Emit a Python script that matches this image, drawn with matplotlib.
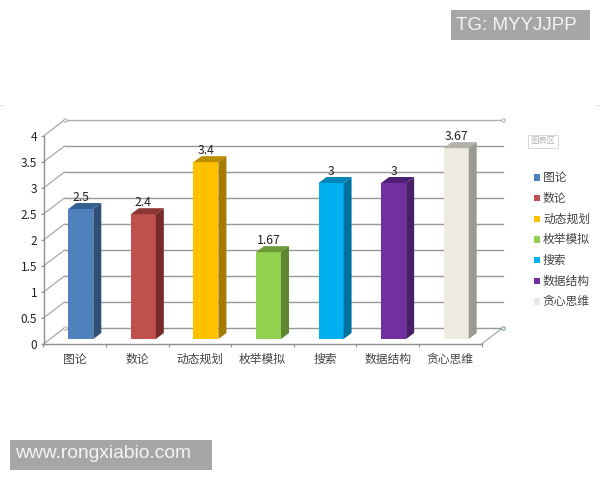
import matplotlib
matplotlib.use('Agg')
import matplotlib.pyplot as plt
from matplotlib.patches import Rectangle

plt.rcParams['font.family'] = ['Noto Sans CJK SC', 'DejaVu Sans']

categories = ['图论', '数论', '动态规划', '枚举模拟', '搜索', '数据结构', '贪心思维']
values = [2.5, 2.4, 3.4, 1.67, 3, 3, 3.67]
labels = ['2.5', '2.4', '3.4', '1.67', '3', '3', '3.67']
yticks = [0, 0.5, 1, 1.5, 2, 2.5, 3, 3.5, 4]
ytick_labels = ['0', '0.5', '1', '1.5', '2', '2.5', '3', '3.5', '4']

front_colors = ['#4f81bd', '#c0504d', '#ffc000', '#92d050', '#00b0f0', '#7030a0', '#eeece1']
top_colors = ['#34608f', '#8c3533', '#bd8e00', '#6b9a38', '#0085b5', '#4f2176', '#b3b2a9']
side_colors = ['#2f4f78', '#772c2a', '#a67c00', '#5f8731', '#0072a0', '#491f68', '#9b9a92']
legend_colors = front_colors[:6] + ['#e8e8e6']

W, H = 600, 480
fig = plt.figure(figsize=(6, 4.8), dpi=100)
ax = fig.add_axes([43.5 / W, (H - 344) / H, 438 / W, 208 / H])
ax.set_xlim(-0.5, 6.5)
ax.set_ylim(0, 4)

# size of one pixel in data units, the fake 3d is done with these
px = 7 / 438
py = 4 / 208
wall_dx, wall_dy = 21 * px, 16 * py
gap_dx, gap_dy = 6 * px, 5 * py
bar_dx, bar_dy = 8 * px, 6 * py
bar_w = 25 * px
grid_col = '#989898'

# back wall and left wall lines
for v in yticks:
    col = '#b0b0b0' if v == 4 else grid_col
    ax.plot([-0.5 + wall_dx, 6.5 + wall_dx], [v + wall_dy, v + wall_dy], color=col, lw=1.0, clip_on=False, zorder=1)
    ax.plot([-0.5, -0.5 + wall_dx], [v, v + wall_dy], color='#a8a8a8', lw=0.9, clip_on=False, zorder=1)
ax.plot([6.5, 6.5 + wall_dx], [0, wall_dy], color='#a8a8a8', lw=0.9, clip_on=False, zorder=1)

# little handles on the corners
ax.plot([-0.5 + wall_dx, 6.5 + wall_dx, -0.5 + wall_dx], [4 + wall_dy, 4 + wall_dy, wall_dy], ls='none', marker='o',
        ms=2.5, mfc='white', mec='#a0a0a0', mew=0.6, clip_on=False, zorder=2)
ax.plot([6.5 + wall_dx], [wall_dy], ls='none', marker='o', ms=2.5, mfc='white', mec='#5f9ea0', mew=0.7, clip_on=False, zorder=2)

# bars
xs = [i + gap_dx for i in range(len(values))]
ax.bar(xs, values, bar_w, bottom=gap_dy, color=front_colors, clip_on=False, zorder=3)
for x, v, c_top, c_side in zip(xs, values, top_colors, side_colors):
    l, r, t = x - bar_w / 2, x + bar_w / 2, v + gap_dy
    ax.fill([l, r, r + bar_dx, l + bar_dx], [t, t, t + bar_dy, t + bar_dy], color=c_top, lw=0, clip_on=False, zorder=3)
    ax.fill([r, r + bar_dx, r + bar_dx, r], [gap_dy, gap_dy + bar_dy, t + bar_dy, t], color=c_side, lw=0, clip_on=False, zorder=3)

for x, v, s in zip(xs, values, labels):
    ax.annotate(s, (x, v + gap_dy), xytext=(0, 8.3), textcoords='offset points', ha='center', va='center',
                fontsize=8.8, color='#222222', zorder=5)

# axes
for s in ['top', 'right']:
    ax.spines[s].set_visible(False)
for s in ['left', 'bottom']:
    ax.spines[s].set_color('#909090')
    ax.spines[s].set_linewidth(1.0)
ax.patch.set_visible(False)
ax.set_yticks(yticks)
ax.set_yticklabels(ytick_labels, fontsize=8.5, color='#222222')
ax.tick_params(axis='y', length=2.5, width=0.8, color='#909090', pad=2)
ax.set_xticks([i - 0.5 for i in range(len(values) + 1)])
ax.set_xticklabels([''] * (len(values) + 1))
ax.tick_params(axis='x', length=2.5, width=0.8, color='#909090')
ax.set_xticks(range(len(values)), minor=True)
ax.set_xticklabels(categories, minor=True, fontsize=8.5, color='#444444')
ax.tick_params(axis='x', which='minor', length=0, pad=6.5)

# legend, placed by hand
legend_y = [177.5, 198, 219, 239.5, 260, 281, 301.5]
for name, c, y in zip(categories, legend_colors, legend_y):
    fig.add_artist(Rectangle((533.5 / W, 1 - (y + 3) / H), 6.5 / W, 6.5 / H, transform=fig.transFigure, color=c, lw=0))
    fig.text(543 / W, 1 - y / H, name, fontsize=8.5, color='#444444', ha='left', va='center')

# the "chart area" tooltip
fig.add_artist(Rectangle((529 / W, 1 - 149 / H), 30 / W, 13 / H, transform=fig.transFigure, fc='#dcdcdc', lw=0))
fig.add_artist(Rectangle((527.5 / W, 1 - 147.5 / H), 30 / W, 13 / H, transform=fig.transFigure, fc='white', ec='#d8d8d8', lw=0.7))
fig.text(542.5 / W, 1 - 141 / H, '图表区', fontsize=6, color='#b5b5b5', ha='center', va='center')

# faint corner marks of the chart frame
fig.add_artist(plt.Line2D([0, 3 / W], [1 - 105 / H, 1 - 105 / H], color='#dddddd', lw=0.7))
fig.add_artist(plt.Line2D([597 / W, 1], [1 - 105 / H, 1 - 105 / H], color='#dddddd', lw=0.7))

# watermark boxes
fig.add_artist(Rectangle((451 / W, 1 - 40 / H), 139 / W, 30 / H, transform=fig.transFigure, color='#a6a6a6', lw=0))
fig.text(456 / W, 1 - 26 / H, 'TG: MYYJJPP', fontsize=13.5, color='#f4f4f4', family='Liberation Sans', ha='left', va='center')
fig.add_artist(Rectangle((10 / W, 1 - 470 / H), 202 / W, 30 / H, transform=fig.transFigure, color='#a6a6a6', lw=0))
fig.text(15 / W, 1 - 454 / H, 'www.rongxiabio.com', fontsize=13.85, color='#f4f4f4', family='Liberation Sans', ha='left', va='center')

fig.savefig('out.png', dpi=100)
